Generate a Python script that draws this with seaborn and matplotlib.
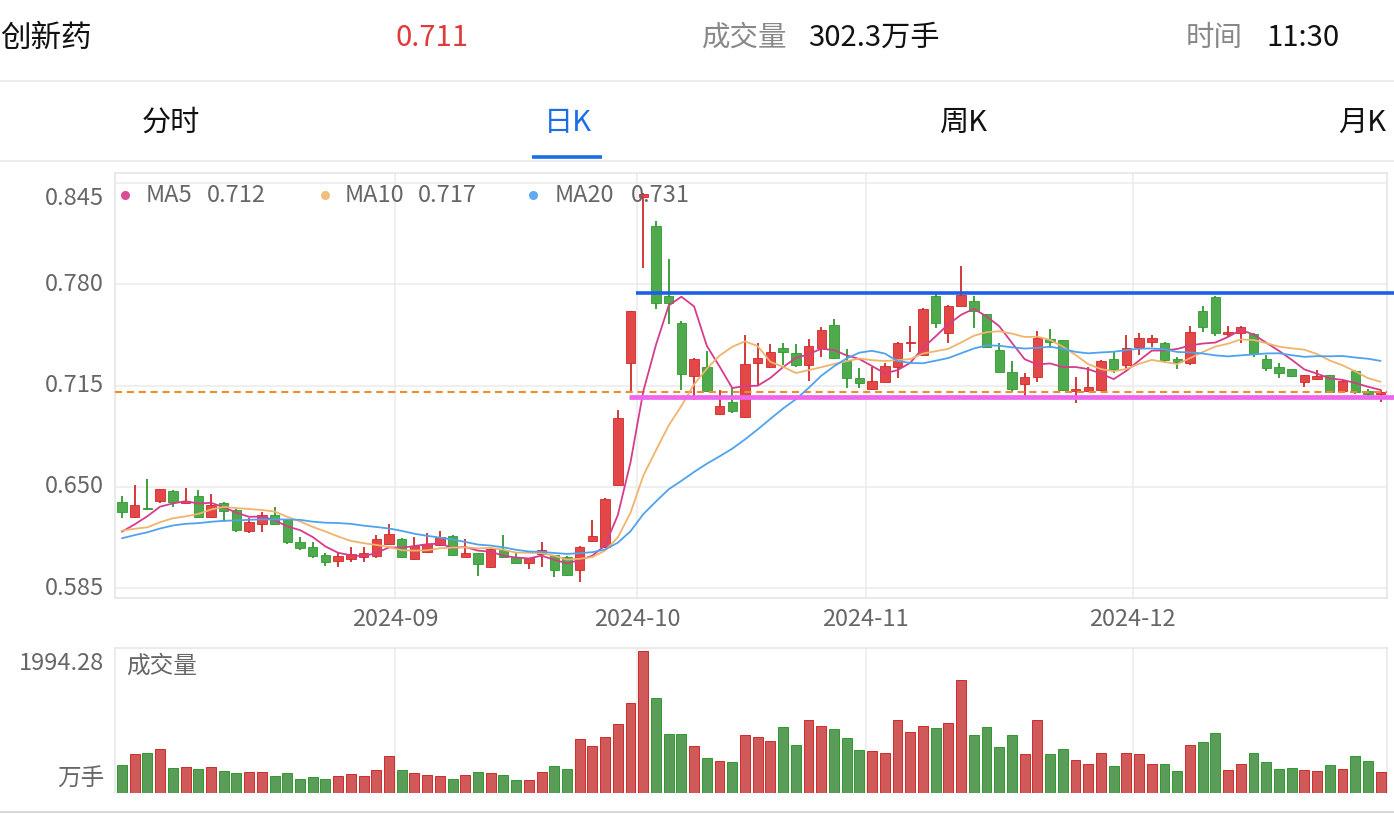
import numpy as np
import pandas as pd
import matplotlib
matplotlib.use("Agg")
import matplotlib.pyplot as plt
import seaborn as sns

sns.set_theme(style="white")
plt.rcParams['font.family'] = ['Noto Sans CJK SC', 'DejaVu Sans']

# ---------------- data ----------------
opens = [0.6406, 0.6308, 0.6365, 0.6410, 0.6474, 0.6400, 0.6444, 0.6308, 0.6395, 0.6352,
         0.6218, 0.6263, 0.6320, 0.6288, 0.6145, 0.6117, 0.6064, 0.6027, 0.6036, 0.6049,
         0.6057, 0.6132, 0.6164, 0.6036, 0.6085, 0.6128, 0.6186, 0.6053, 0.6074, 0.5985,
         0.6096, 0.6049, 0.6010, 0.6070, 0.6064, 0.6053, 0.5968, 0.6156, 0.6117, 0.6513,
         0.7293, 0.8360, 0.8174, 0.7725, 0.7550, 0.7212, 0.7268, 0.6968, 0.7047, 0.6947,
         0.7293, 0.7272, 0.7389, 0.7357, 0.7282, 0.7394, 0.7539, 0.7310, 0.7197, 0.7129,
         0.7176, 0.7272, 0.7421, 0.7347, 0.7725, 0.7490, 0.7661, 0.7689, 0.7610, 0.7379,
         0.7240, 0.7161, 0.7203, 0.7447, 0.7439, 0.7116, 0.7118, 0.7122, 0.7319, 0.7282,
         0.7396, 0.7432, 0.7426, 0.7319, 0.7297, 0.7629, 0.7721, 0.7481, 0.7490, 0.7481,
         0.7319, 0.7268, 0.7257, 0.7176, 0.7191, 0.7218, 0.7118, 0.7246, 0.7118, 0.7096]
highs = [0.6442, 0.6513, 0.6549, 0.6490, 0.6480, 0.6491, 0.6481, 0.6455, 0.6406, 0.6356,
         0.6299, 0.6342, 0.6370, 0.6290, 0.6177, 0.6150, 0.6074, 0.6085, 0.6117, 0.6117,
         0.6192, 0.6263, 0.6170, 0.6181, 0.6207, 0.6220, 0.6192, 0.6164, 0.6076, 0.6107,
         0.6192, 0.6074, 0.6045, 0.6149, 0.6066, 0.6060, 0.6122, 0.6288, 0.6427, 0.6994,
         0.7631, 0.8384, 0.8208, 0.7960, 0.7567, 0.7325, 0.7374, 0.7122, 0.7133, 0.7471,
         0.7421, 0.7417, 0.7426, 0.7417, 0.7447, 0.7528, 0.7575, 0.7383, 0.7261, 0.7272,
         0.7297, 0.7432, 0.7533, 0.7646, 0.7738, 0.7667, 0.7917, 0.7725, 0.7612, 0.7421,
         0.7310, 0.7233, 0.7503, 0.7511, 0.7440, 0.7203, 0.7272, 0.7314, 0.7374, 0.7475,
         0.7486, 0.7475, 0.7427, 0.7336, 0.7533, 0.7661, 0.7725, 0.7533, 0.7530, 0.7486,
         0.7347, 0.7297, 0.7259, 0.7220, 0.7250, 0.7220, 0.7184, 0.7250, 0.7126, 0.7120]
lows = [0.6303, 0.6299, 0.6352, 0.6400, 0.6374, 0.6395, 0.6299, 0.6299, 0.6278, 0.6213,
        0.6203, 0.6213, 0.6256, 0.6134, 0.6096, 0.6042, 0.5993, 0.5985, 0.6021, 0.6021,
        0.6042, 0.6130, 0.6042, 0.6032, 0.6074, 0.6122, 0.6057, 0.6049, 0.5929, 0.5978,
        0.6042, 0.6006, 0.5972, 0.5985, 0.5921, 0.5930, 0.5893, 0.6150, 0.6107, 0.6506,
        0.7111, 0.7903, 0.7640, 0.7545, 0.7122, 0.7058, 0.7111, 0.6962, 0.6977, 0.6940,
        0.7148, 0.7261, 0.7282, 0.7268, 0.7182, 0.7336, 0.7319, 0.7133, 0.7133, 0.7122,
        0.7170, 0.7197, 0.7368, 0.7340, 0.7518, 0.7426, 0.7657, 0.7518, 0.7390, 0.7240,
        0.7111, 0.7062, 0.7176, 0.7390, 0.7118, 0.7037, 0.7111, 0.7118, 0.7233, 0.7255,
        0.7347, 0.7396, 0.7293, 0.7255, 0.7282, 0.7496, 0.7468, 0.7464, 0.7426, 0.7336,
        0.7246, 0.7197, 0.7208, 0.7139, 0.7186, 0.7105, 0.7108, 0.7096, 0.7069, 0.7047]
closes = [0.6337, 0.6385, 0.6360, 0.6487, 0.6402, 0.6410, 0.6310, 0.6382, 0.6348, 0.6224,
          0.6278, 0.6320, 0.6263, 0.6149, 0.6107, 0.6057, 0.6017, 0.6059, 0.6070, 0.6074,
          0.6164, 0.6196, 0.6049, 0.6122, 0.6134, 0.6181, 0.6064, 0.6074, 0.6006, 0.6100,
          0.6049, 0.6010, 0.6042, 0.6096, 0.5968, 0.5936, 0.6113, 0.6186, 0.6423, 0.6940,
          0.7631, 0.8380, 0.7682, 0.7682, 0.7223, 0.7319, 0.7118, 0.7020, 0.6990, 0.7287,
          0.7329, 0.7368, 0.7368, 0.7282, 0.7406, 0.7507, 0.7325, 0.7197, 0.7165, 0.7180,
          0.7276, 0.7426, 0.7432, 0.7640, 0.7554, 0.7661, 0.7731, 0.7625, 0.7396, 0.7240,
          0.7126, 0.7208, 0.7454, 0.7432, 0.7122, 0.7129, 0.7140, 0.7310, 0.7255, 0.7389,
          0.7458, 0.7458, 0.7315, 0.7304, 0.7496, 0.7524, 0.7490, 0.7496, 0.7528, 0.7350,
          0.7261, 0.7229, 0.7210, 0.7218, 0.7212, 0.7111, 0.7182, 0.7111, 0.7096, 0.7110]
# closes of the 19 sessions before the window
lead_closes = [0.598, 0.600, 0.600, 0.6014, 0.620, 0.622, 0.621, 0.622, 0.618, 0.6194,
               0.627, 0.6265, 0.616, 0.615, 0.629, 0.615, 0.610, 0.618, 0.630]
volumes = [389.5, 544, 568, 619, 347, 361, 338, 361, 310, 286,
           291, 296, 244, 282, 202, 225, 202, 235, 267, 239,
           319, 526, 328, 282, 253, 244, 202, 253, 291, 282,
           249, 183, 188, 296, 380, 343, 765, 657, 784, 967,
           1267, 1994.28, 1337, 831, 826, 657, 497, 446, 432, 812,
           788, 732, 924, 680, 1032, 943, 901, 774, 601, 591,
           563, 1028, 859, 938, 910, 985, 1595, 821, 924, 652,
           812, 554, 1023, 544, 619, 465, 408, 563, 380, 563,
           549, 413, 408, 314, 676, 713, 840, 324, 408, 568,
           432, 343, 357, 324, 305, 389, 338, 516, 455, 302.3]
ma_windows = [5, 10, 20]
ma_colors = ['#D63C8C', '#F0B46C', '#4FA3EE']
dot_colors = ['#DB4C95', '#F2BE7E', '#5EABF2']
y_ticks = [0.585, 0.650, 0.715, 0.780, 0.845]
support_level, support_start = 0.7078, 39.9
resist_level, resist_start = 0.7742, 40.45
holidays = ["2024-09-16", "2024-09-17", "2024-10-01", "2024-10-02",
            "2024-10-03", "2024-10-04", "2024-10-07"]
tabs = ["分时", "日K", "周K", "月K"]
name = "创新药"
time_str = "11:30"

# --------------- derived ---------------
days = pd.bdate_range("2024-08-01", "2024-12-27")
days = days[~days.isin(pd.to_datetime(holidays))]
n = len(closes)
idx = np.arange(n)
O = np.array(opens); C = np.array(closes); Hh = np.array(highs); L = np.array(lows)
up = C >= O
full = pd.Series(lead_closes + closes)
mas = [full.rolling(w).mean().to_numpy()[len(lead_closes):] for w in ma_windows]
month_start = [i for i in range(1, n) if days[i].month != days[i - 1].month]

RED = '#E34747'; RED_E = '#D02A2A'
GREEN = '#4FA94D'; GREEN_E = '#2E9A2E'
LBL = 17

W, H = 1394, 814
fig = plt.figure(figsize=(W / 100, H / 100), dpi=100)
fig.patch.set_facecolor('white')

def fpos(x, y):
    return x / W, 1 - y / H

# --------------- header ---------------
hdr_y = 38
fig.text(*fpos(0, hdr_y), name, fontsize=22, color='#111111', ha='left', va='center')
fig.text(*fpos(432, hdr_y), f"{closes[-1]:.3f}", fontsize=21, color='#E03A3A', ha='center', va='center')
fig.text(*fpos(787, hdr_y), "成交量", fontsize=20.5, color='#888888', ha='right', va='center')
fig.text(*fpos(808, hdr_y), f"{volumes[-1]:.1f}万手", fontsize=21, color='#111111', ha='left', va='center')
fig.text(*fpos(1243, hdr_y), "时间", fontsize=20.5, color='#888888', ha='right', va='center')
fig.text(*fpos(1266, hdr_y), time_str, fontsize=21, color='#111111', ha='left', va='center')
tab_x = [171, 568, 963, 1362]
for t, tx in zip(tabs, tab_x):
    fig.text(*fpos(tx, 123), t, fontsize=21, color='#1A6FE6' if t == "日K" else '#111111',
             ha='center', va='center')
for yy in (80.5, 160.5):
    fig.add_artist(plt.Line2D([0, 1], [1 - yy / H] * 2, color='#E9E9E9', lw=1.2, transform=fig.transFigure))
fig.add_artist(plt.Line2D([532 / W, 602 / W], [1 - 157 / H] * 2, color='#1A6FE6', lw=2.6,
                          transform=fig.transFigure, solid_capstyle='butt'))
fig.add_artist(plt.Line2D([0, 1], [1 - 812 / H] * 2, color='#D8D8D8', lw=1.5, transform=fig.transFigure))

# --------------- main price axes ---------------
ax = fig.add_axes([115 / W, 1 - 598 / H, (1387 - 115) / W, (598 - 172.5) / H])
ax.set_facecolor('white')
xlim = (-0.55, 99.5)
ylim = (0.5788, 0.8516)
ax.set_xlim(*xlim); ax.set_ylim(*ylim)
for v in y_ticks:
    ax.axhline(v, color='#EBEBEB', lw=1.1, zorder=0)
for m in month_start:
    ax.axvline(m - 0.5, color='#EBEBEB', lw=1.1, zorder=0)
ax.set_xticks([]); ax.set_yticks([])
for s in ax.spines.values():
    s.set_color('#E3E3E3'); s.set_linewidth(1.1)

# current price dashed line
ax.axhline(C[-1], color='#EE8E2A', lw=1.5, ls=(0, (3.4, 2.3)), zorder=3.5)

# wicks
ax.vlines(idx, L, Hh, colors=np.where(up, RED_E, GREEN_E), lw=1.3, zorder=2)
# bodies
body_h = np.maximum(np.abs(C - O), 0.0008)
body_b = np.minimum(O, C)
ax.bar(idx, body_h, bottom=body_b, width=0.74, color=np.where(up, RED, GREEN),
       edgecolor=np.where(up, RED_E, GREEN_E), linewidth=0.6, zorder=3)

# moving averages
for ma, col in zip(mas, ma_colors):
    sns.lineplot(x=idx, y=ma, color=col, linewidth=1.3, ax=ax, zorder=4, legend=False)
ax.set_xlim(*xlim); ax.set_ylim(*ylim)
ax.set_xlabel(''); ax.set_ylabel('')

# drawn support / resistance lines (extend to the right figure edge)
x_end = ax.transData.inverted().transform((W, 0))[0]
ax.plot([resist_start, x_end], [resist_level] * 2, color='#1D5FE8', lw=2.6, zorder=6,
        clip_on=False, solid_capstyle='butt')
ax.plot([support_start, x_end], [support_level] * 2, color='#EE66EE', lw=3.4, zorder=5,
        clip_on=False, solid_capstyle='butt')

# y tick labels
for v in y_ticks:
    dy = -11 if v == max(y_ticks) else 0
    ax.annotate(f"{v:.3f}", xy=(0, v), xycoords=('axes fraction', 'data'), xytext=(-8, dy),
                textcoords='offset points', ha='right', va='center', fontsize=LBL, color='#666666')
# x tick labels
for m in month_start:
    ax.annotate(days[m].strftime('%Y-%m'), xy=(m - 0.5, 0), xycoords=('data', 'axes fraction'),
                xytext=(0, -15.5), textcoords='offset points', ha='center', va='center',
                fontsize=LBL, color='#666666')

# legend
leg_x = [(125, 146, 207), (325, 345, 418), (533, 555, 631)]
for (dx, tx, vx), w, ma, dc in zip(leg_x, ma_windows, mas, dot_colors):
    fig.add_artist(plt.Line2D([dx / W], [1 - 195 / H], marker='o', ms=5.5, color=dc, lw=0,
                              transform=fig.transFigure))
    fig.text(*fpos(tx, 195), f"MA{w}", fontsize=LBL, color='#666666', ha='left', va='center')
    fig.text(*fpos(vx, 195), f"{ma[-1]:.3f}", fontsize=LBL, color='#666666', ha='left', va='center')

# --------------- volume axes ---------------
axv = fig.add_axes([115 / W, 1 - 793 / H, (1387 - 115) / W, (793 - 647.5) / H])
vdf = pd.DataFrame({'i': idx, 'vol': volumes, 'dir': np.where(up, 'up', 'down')})
sns.barplot(data=vdf, x='i', y='vol', hue='dir', palette={'up': RED, 'down': GREEN},
            dodge=False, width=0.78, legend=False, ax=axv, zorder=3)
for p, u in zip(sorted(axv.patches, key=lambda r: r.get_x()), up):
    p.set_edgecolor(RED_E if u else GREEN_E); p.set_linewidth(0.7)
axv.set_xlim(*xlim)
axv.set_ylim(0, max(volumes) * 1.026)
for m in month_start:
    axv.axvline(m - 0.5, color='#EBEBEB', lw=1.1, zorder=0)
axv.set_xticks([]); axv.set_yticks([])
axv.set_xlabel(''); axv.set_ylabel('')
for s in axv.spines.values():
    s.set_color('#E6E6E6'); s.set_linewidth(1.1)
axv.spines['bottom'].set_visible(False)
fig.text(*fpos(104, 664), f"{max(volumes):.2f}", fontsize=LBL, color='#666666', ha='right', va='center')
fig.text(*fpos(104, 779), "万手", fontsize=LBL, color='#666666', ha='right', va='center')
fig.text(*fpos(126, 666), "成交量", fontsize=LBL, color='#666666', ha='left', va='center')

fig.savefig('out.png', dpi=100, facecolor='white')
